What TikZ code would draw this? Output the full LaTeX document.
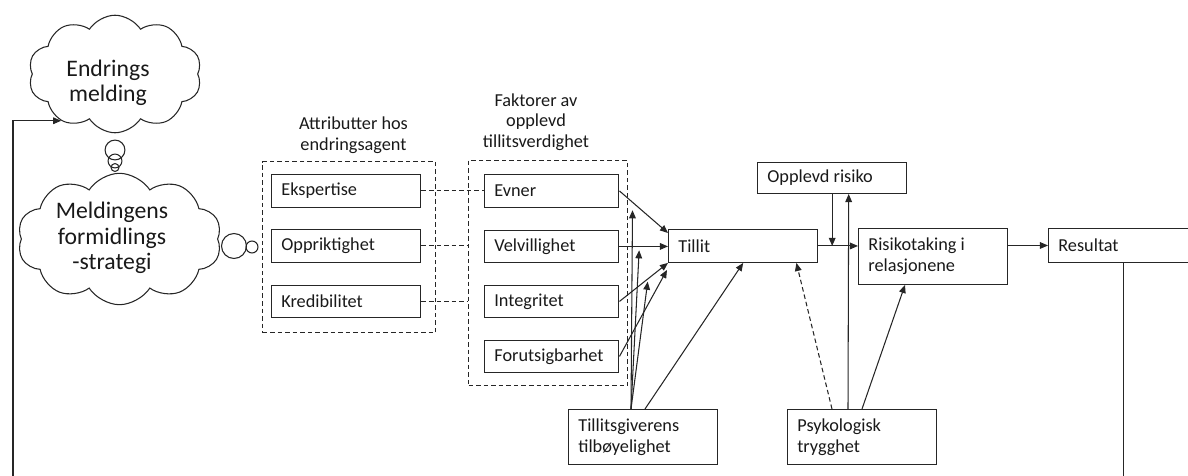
\documentclass[tikz,border=0pt]{standalone}
\usepackage{fontspec}
\setmainfont{Carlito}
\usetikzlibrary{shapes.symbols,arrows.meta,calc}

\begin{document}
\begin{tikzpicture}[x=0.02cm,y=-0.02cm,
  line/.style={draw=black!85, line width=0.6pt},
  arr/.style={line, -{Triangle[length=4.6pt,width=3.8pt]}},
  dline/.style={line, dash pattern=on 2.6pt off 1.7pt},
  box/.style={line, rectangle, anchor=north west, inner xsep=5.6pt, inner ysep=0pt,
    align=flush left, text=black!90, font=\fontsize{10.4}{12}\selectfont,
    execute at begin node={\spaceskip=0pt\xspaceskip=0pt}},
  wide/.style={box, minimum width=85pt, text width=73.8pt},
  narrow/.style={box, minimum width=76.5pt, text width=65.3pt},
  group/.style={dline, rectangle, anchor=north west, inner sep=0pt},
  heading/.style={align=center, text=black!90, font=\fontsize{10.4}{11.8}\selectfont},
  thought/.style={line, cloud, cloud puffs=10, cloud puff arc=115, cloud ignores aspect, inner sep=0pt},
  thoughttext/.style={align=center, text=black!90, font=\fontsize{13.5}{14.4}\selectfont},
  bubble/.style={line, circle, inner sep=0pt}
]
\useasboundingbox (0,0) rectangle (1188,476);
\clip (0,0) rectangle (1188,476);

% thought clouds
\node[thought, minimum width=98.6pt, minimum height=66.9pt] (e1) at (115,74) {};
\node[thoughttext] (e1t) at (108,83) {Endrings\\melding};
\node[thought, minimum width=116.2pt, minimum height=74.8pt] (e2) at (119.5,239) {};
\node[thoughttext] (e2t) at (112,238) {Meldingens\\formidlings\\-strategi};

% small thought bubbles
\node[bubble, minimum size=11.3pt] (b1) at (115,150) {};
\node[bubble, minimum size=7.9pt] (b2) at (115,161) {};
\node[bubble, minimum size=4.5pt] (b3) at (115,167.5) {};
\node[bubble, minimum size=14.2pt] (b4) at (234,246) {};
\node[bubble, minimum size=6.8pt] (b5) at (252,247) {};

% groups
\node[group, minimum width=98.6pt, minimum height=97.5pt] (ga) at (262,161) {};
\node[group, minimum width=90.7pt, minimum height=128.1pt] (gb) at (468,160) {};
\node[heading] (ha) at (353.5,135.5) {Attributter hos\\endringsagent};
\node[heading] (hb) at (536,122) {Faktorer av\\opplevd\\tillitsverdighet};

% attributes
\node[wide, minimum height=18.7pt] (eks) at (271,174) {Ekspertise};
\node[wide, minimum height=18.7pt] (opp) at (271,229) {Oppriktighet};
\node[wide, minimum height=18.1pt] (kre) at (271,285) {Kredibilitet};

% trustworthiness factors
\node[narrow, minimum height=18.7pt] (evn) at (484,174) {Evner};
\node[narrow, minimum height=18.1pt] (vel) at (484,230) {Velvillighet};
\node[narrow, minimum height=18.1pt] (int) at (484,285) {Integritet};
\node[narrow, minimum height=18.1pt] (for) at (484,340) {Forutsigbarhet};

% main chain
\node[wide, minimum height=18.7pt] (til) at (668,229) {Tillit};
\node[wide, minimum height=17.6pt] (ris) at (757,162) {Opplevd risiko};
\node[wide, minimum height=31.8pt] (rt) at (858,228) {Risikotaking i\\relasjonene};
\node[wide, minimum height=19.3pt] (res) at (1048,228) {Resultat};
\node[wide, minimum height=31.2pt] (tg) at (568,409) {Tillitsgiverens\\tilbøyelighet};
\node[wide, minimum height=31.2pt] (psy) at (787,409) {Psykologisk\\trygghet};

% links between attributes and factors
\draw[dline] (eks.east) -- (evn.west);
\draw[dline] (opp.east) -- (opp.east -| gb.west);
\draw[dline] (kre.east) -- (kre.east -| gb.west);

% factors to trust
\draw[arr] (evn.east) -- coordinate[pos=0.27] (m1) ($(til.north west)+(0,4)$);
\draw[arr] (vel.east) -- coordinate[pos=0.41] (m2) (vel.east -| til.west);
\draw[arr] (int.east) -- coordinate[pos=0.59] (m3) (til.south west);
\draw[arr] (for.east) -- ($(til.south west)+(-1,7)$);

% trust propensity
\coordinate (tgp) at ($(tg.north west)+(63,0)$);
\draw[arr, shorten >=4.5pt] (tgp) -- (m1);
\draw[arr, shorten >=2.2pt] (tgp) -- (m2);
\draw[arr, shorten >=1.7pt] (tgp) -- (m3);
\draw[arr] ($(tg.north west)+(77,0)$) -- (til.south);

% psychological safety
\draw[arr, dash pattern=on 2.6pt off 1.7pt] ($(psy.north west)+(45,0)$) -- ($(til.south east)+(-22,0)$);
\draw[arr] ($(psy.north west)+(61,0)$) -- ($(ris.south)+(16.5,0)$);
\draw[arr] ($(psy.north west)+(75,0)$) -- ($(rt.south west)+(47,0)$);

% risk and outcome
\draw[arr] (ris.south) -- (ris.south |- til.east);
\draw[arr] (til.east) -- (til.east -| rt.west);
\draw[arr] (res.west -| rt.east) -- (res.west);

% feedback loop
\coordinate (fb) at (13,520);
\draw[arr] (res.south) |- (fb) |- (e1.221);
\end{tikzpicture}
\end{document}
